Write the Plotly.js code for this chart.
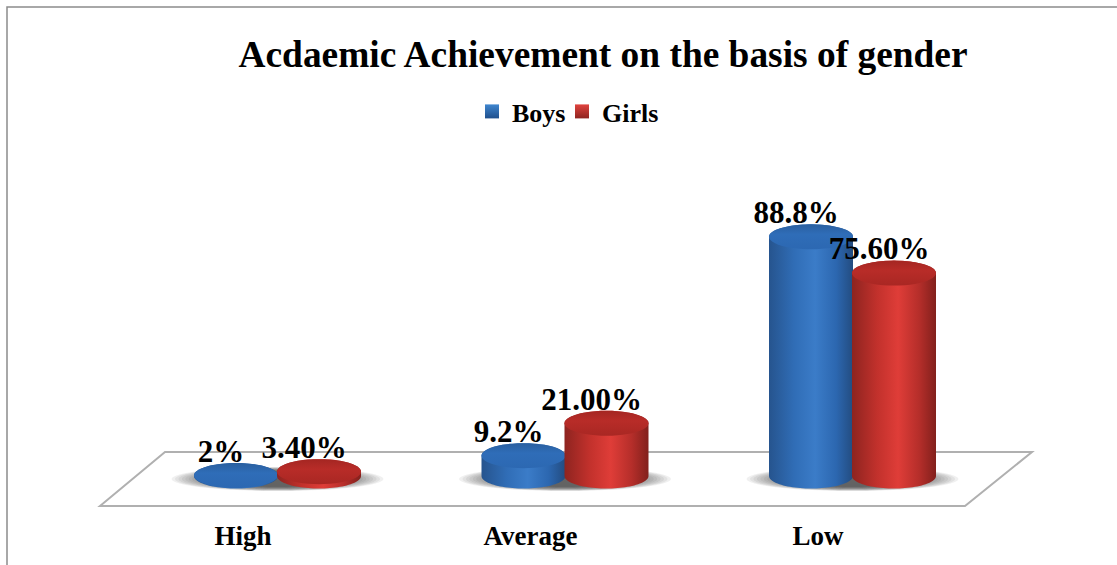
<!DOCTYPE html>
<html>
<head>
<meta charset="utf-8">
<script src="https://cdn.plot.ly/plotly-3.0.1.min.js"></script>
<style>html,body{margin:0;padding:0;background:#fff}#chart{width:1117px;height:565px}</style>
</head>
<body>
<div id="chart"></div>
<script>
// Academic achievement percentages by gender
const categories = ['High', 'Average', 'Low'];
const boysValues = [2, 9.2, 88.8];
const girlsValues = [3.4, 21, 75.6];
const boysLabels = ['2%', '9.2%', '88.8%'];
const girlsLabels = ['3.40%', '21.00%', '75.60%'];

const W = 1117, H = 565;
const pxPerCat = 287.5, pxPerPct = 2.75;
const zeroX = 243, zeroY = 481, axisY = 510;
const serif = '"Liberation Serif", "Times New Roman", serif';

// pixel sizes converted into axis units
const rx = 42 / pxPerCat, ry = 12.5 / pxPerPct;
const boysOffset = -7 / pxPerCat, girlsOffset = 76 / pxPerCat;
const labelShift = -15 / pxPerCat, labelLift = 6 / pxPerPct;
const baseLevel = 5 / pxPerPct;

const STEPS = 48;
function arc(cx, cy, from, to, ax = rx, ay = ry) {
  const xs = [], ys = [];
  for (let i = 0; i <= STEPS; i++) {
    const t = from + (to - from) * i / STEPS;
    xs.push(cx + ax * Math.cos(t));
    ys.push(cy + ay * Math.sin(t));
  }
  return [xs, ys];
}

// cylinder wall: lower half of the base ellipse plus the top edge
function wall(cx, v, scale) {
  const [bx, by] = arc(cx, baseLevel, Math.PI, 2 * Math.PI);
  const [tx, ty] = arc(cx, Math.max(v, baseLevel), 0, Math.PI);
  return {
    type: 'scatter', mode: 'none', fill: 'toself', showlegend: false, hoverinfo: 'skip',
    x: bx.concat(tx), y: by.concat(ty),
    fillgradient: {type: 'horizontal', colorscale: scale}
  };
}
function cap(cx, v, scale) {
  const [x, y] = arc(cx, Math.max(v, baseLevel), 0, 2 * Math.PI);
  return {
    type: 'scatter', mode: 'none', fill: 'toself', showlegend: false,
    hoverinfo: 'skip', x, y,
    fillgradient: {type: 'vertical', colorscale: scale}
  };
}
// soft floor shadow built from nested translucent ellipses under each pair
function shadowLayers(cx) {
  const layers = [];
  const cy = 2 / pxPerPct;
  const count = 18;
  for (let k = 0; k < count; k++) {
    const f = 1 - 0.55 * k / (count - 1);
    const [x, y] = arc(cx, cy, 0, 2 * Math.PI, (106 / pxPerCat) * f, (12 / pxPerPct) * (0.35 + 0.65 * f));
    layers.push({
      type: 'scatter', mode: 'none', fill: 'toself', showlegend: false, hoverinfo: 'skip',
      x, y, fillcolor: 'rgba(50,50,50,0.075)'
    });
  }
  return layers;
}
// legend-only swatches, each entry placed by its own legend box
function swatch(name, color, shade, legendId) {
  return {
    type: 'scatter', mode: 'markers', name, legend: legendId, x: [null], y: [null], hoverinfo: 'skip',
    marker: {symbol: 'square', size: 14, color, gradient: {type: 'vertical', color: shade}}
  };
}

const blueWall = [[0, '#26548e'], [0.3, '#306db6'], [0.55, '#3b7cc8'], [0.8, '#2c67b0'], [1, '#234c80']];
const redWall = [[0, '#8e2420'], [0.3, '#c2312c'], [0.55, '#df3d38'], [0.8, '#b52e2a'], [1, '#82201c']];
const blueCap = [[0, '#2c68b2'], [0.6, '#2f6db8'], [1, '#2a5f9f']];
const redCap = [[0, '#a92723'], [0.6, '#b82c28'], [1, '#a42622']];

const traces = [];
categories.forEach((c, i) => traces.push(...shadowLayers(i + (boysOffset + girlsOffset) / 2)));
categories.forEach((c, i) => {
  traces.push(wall(i + boysOffset, boysValues[i], blueWall));
  traces.push(cap(i + boysOffset, boysValues[i], blueCap));
});
categories.forEach((c, i) => {
  traces.push(wall(i + girlsOffset, girlsValues[i], redWall));
  traces.push(cap(i + girlsOffset, girlsValues[i], redCap));
});
function labels(offset, values, text) {
  return {
    type: 'scatter', mode: 'text', showlegend: false, hoverinfo: 'skip',
    x: categories.map((c, i) => i + offset + labelShift),
    y: values.map(v => v + labelLift),
    text: text, textposition: 'top center',
    textfont: {family: serif, size: 31, color: '#000', weight: 700}
  };
}
traces.push(labels(boysOffset, boysValues, boysLabels));
traces.push(labels(girlsOffset, girlsValues, girlsLabels));
traces.push(swatch('Boys', '#3f86cf', '#1f4f8c', 'legend'));
traces.push(swatch('Girls', '#e0433e', '#8e2420', 'legend2'));

const floorColor = '#b0b0b0';
// paper coordinates run over the plot area, which ends at the axis line
const px = x => x / W, py = y => 1 - y / axisY;
const legendBox = x => ({
  orientation: 'h', x: px(x), y: py(88), xanchor: 'left', yanchor: 'top',
  font: {family: serif, size: 26, color: '#000', weight: 700},
  itemwidth: 30, bgcolor: 'rgba(0,0,0,0)'
});
const layout = {
  width: W, height: H,
  margin: {l: 0, r: 0, t: 0, b: H - axisY, pad: 0},
  paper_bgcolor: '#fff', plot_bgcolor: 'rgba(0,0,0,0)',
  title: {text: 'Acdaemic Achievement on the basis of gender',
    font: {family: serif, size: 37.4, color: '#000', weight: 700},
    x: 603 / W, xanchor: 'center', y: 1 - 54 / H, yanchor: 'middle'},
  showlegend: true,
  legend: legendBox(472),
  legend2: legendBox(562),
  xaxis: {range: [-zeroX / pxPerCat, (W - zeroX) / pxPerCat], tickmode: 'array',
    tickvals: categories.map((c, i) => i), ticktext: categories,
    showgrid: false, zeroline: false, showline: false, ticks: '',
    ticklen: 0, ticklabelstandoff: 7,
    tickfont: {family: serif, size: 27, color: '#000', weight: 700}},
  yaxis: {range: [(zeroY - axisY) / pxPerPct, zeroY / pxPerPct], visible: false, fixedrange: true},
  shapes: [
    {type: 'path', xref: 'paper', yref: 'paper', layer: 'below',
     path: `M ${px(7)} ${py(565)} L ${px(7)} ${py(7)} L ${px(1117)} ${py(7)}`,
     line: {color: '#8c8c8c', width: 1.5}},
    {type: 'path', xref: 'paper', yref: 'paper', layer: 'below',
     path: `M ${px(100)} ${py(506)} L ${px(165)} ${py(452)} L ${px(1032)} ${py(452)} L ${px(965)} ${py(506)} Z`,
     line: {color: floorColor, width: 2}}
  ]
};
Plotly.newPlot('chart', traces, layout, {displayModeBar: false, staticPlot: true});
</script>
</body>
</html>
